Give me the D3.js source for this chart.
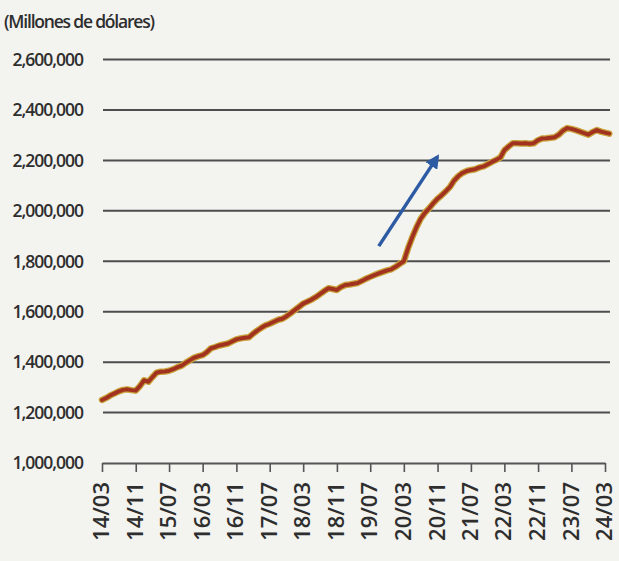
<!DOCTYPE html>
<html>
<head>
<meta charset="utf-8">
<style>
  body { margin: 0; background: #f3f3f0; }
  svg { display: block; }
  text { font-family: "Open Sans", sans-serif; fill: #2e2e2e; }
</style>
<script src="https://cdn.jsdelivr.net/npm/d3@7"></script>
</head>
<body>
<div id="chart"></div>
<script>
  // monthly values, millions of dollars, from 2014/03 to 2024/04
  var startMonth = '2014-03';
  var values = [
    1250000, 1258000, 1268000, 1276000, 1284000, 1290000, 1292000, 1289000, 1287000, 1305000,
    1328000, 1322000, 1340000, 1358000, 1362000, 1363000, 1366000, 1372000, 1380000, 1386000,
    1398000, 1408000, 1418000, 1424000, 1428000, 1440000, 1455000, 1460000, 1466000, 1470000,
    1474000, 1482000, 1490000, 1494000, 1497000, 1499000, 1512000, 1525000, 1536000, 1546000,
    1552000, 1560000, 1568000, 1572000, 1582000, 1594000, 1607000, 1620000, 1632000, 1640000,
    1648000, 1658000, 1670000, 1682000, 1693000, 1690000, 1686000, 1698000, 1706000, 1708000,
    1711000, 1714000, 1722000, 1731000, 1738000, 1745000, 1752000, 1758000, 1764000, 1768000,
    1778000, 1790000, 1800000, 1852000, 1895000, 1935000, 1968000, 1992000, 2010000, 2030000,
    2048000, 2062000, 2078000, 2096000, 2120000, 2138000, 2150000, 2158000, 2162000, 2165000,
    2172000, 2176000, 2185000, 2194000, 2202000, 2212000, 2240000, 2255000, 2268000, 2268000,
    2267000, 2268000, 2266000, 2268000, 2280000, 2287000, 2288000, 2290000, 2292000, 2302000,
    2318000, 2328000, 2325000, 2320000, 2314000, 2308000, 2302000, 2312000, 2320000, 2314000,
    2310000, 2306000
  ];
  var tickLabels = ['14/03', '14/11', '15/07', '16/03', '16/11', '17/07', '18/03', '18/11',
                    '19/07', '20/03', '20/11', '21/07', '22/03', '22/11', '23/07', '24/03'];
  var yTicks = [1000000, 1200000, 1400000, 1600000, 1800000, 2000000, 2200000, 2400000, 2600000];
  var arrowFrom = { date: '2019-09', value: 1860000 };
  var arrowTo = { date: '2020-11', value: 2215000 };

  var parseMonth = d3.timeParse('%Y-%m');
  var parseTick = d3.timeParse('%y/%m');

  var start = parseMonth(startMonth);
  var data = values.map(function(v, i) {
    return { date: d3.timeMonth.offset(start, i), value: v };
  });

  var svg = d3.select('#chart')
      .append('svg')
      .attr('width', 619)
      .attr('height', 561);

  var x = d3.scaleTime()
      .domain([parseTick('14/03'), parseTick('24/03')])
      .range([102, 605]);

  var y = d3.scaleLinear()
      .domain([1000000, 2600000])
      .range([463, 59.5]);

  svg.append('text')
      .attr('x', 4)
      .attr('y', 28)
      .style('font-size', '17.5px')
      .style('font-weight', 600)
      .style('letter-spacing', '-1.2px')
      .text('(Millones de dólares)');

  // horizontal gridlines (not at the baseline)
  svg.selectAll('line.grid')
      .data(yTicks.slice(1))
    .enter().append('line')
      .attr('class', 'grid')
      .attr('x1', 103)
      .attr('x2', 610)
      .attr('y1', function(d) { return y(d); })
      .attr('y2', function(d) { return y(d); })
      .style('stroke', '#4d4d4d')
      .style('stroke-width', 2);

  // y labels
  svg.selectAll('text.ylab')
      .data(yTicks)
    .enter().append('text')
      .attr('class', 'ylab')
      .attr('x', 83)
      .attr('y', function(d) { return y(d); })
      .attr('dy', '0.36em')
      .attr('text-anchor', 'end')
      .style('font-size', '17.5px')
      .style('font-weight', 600)
      .style('letter-spacing', '-1px')
      .text(d3.format(','));

  // x axis
  var xAxis = d3.axisBottom(x)
      .tickValues(tickLabels.map(function(t) { return parseTick(t); }))
      .tickSize(9)
      .tickSizeOuter(0)
      .tickFormat(d3.timeFormat('%y/%m'));

  var gx = svg.append('g')
      .attr('transform', 'translate(0,' + y(1000000) + ')')
      .call(xAxis);

  gx.select('.domain')
      .style('stroke', '#555')
      .style('stroke-width', 2);
  gx.selectAll('.tick line')
      .style('stroke', '#555')
      .style('stroke-width', 1.6);
  gx.selectAll('.tick text')
      .attr('transform', 'rotate(-90)')
      .attr('text-anchor', 'end')
      .attr('x', -19)
      .attr('y', 0)
      .attr('dy', '0.3em')
      .style('font-family', '"Open Sans", sans-serif')
      .style('font-size', '22px')
      .style('font-weight', 600)
      .style('fill', '#2e2e2e');

  // series line
  var line = d3.line()
      .x(function(d) { return x(d.date); })
      .y(function(d) { return y(d.value); });

  svg.append('path')
      .datum(data)
      .attr('d', line)
      .style('fill', 'none')
      .style('stroke', '#c9a43c')
      .style('stroke-width', 6.5)
      .style('stroke-linejoin', 'round')
      .style('stroke-linecap', 'round');

  svg.append('path')
      .datum(data)
      .attr('d', line)
      .style('fill', 'none')
      .style('stroke', '#a1321f')
      .style('stroke-width', 4)
      .style('stroke-linejoin', 'round')
      .style('stroke-linecap', 'round');

  // blue arrow
  svg.append('defs').append('marker')
      .attr('id', 'head')
      .attr('viewBox', '0 0 10 10')
      .attr('refX', 8)
      .attr('refY', 5)
      .attr('markerWidth', 4)
      .attr('markerHeight', 4)
      .attr('markerUnits', 'strokeWidth')
      .attr('orient', 'auto')
    .append('path')
      .attr('d', 'M0,0 L10,5 L0,10 z')
      .style('fill', '#2c5aa3');

  var ax1 = x(parseMonth(arrowFrom.date)), ay1 = y(arrowFrom.value);
  var ax2 = x(parseMonth(arrowTo.date)), ay2 = y(arrowTo.value);
  svg.append('line')
      .attr('x1', ax1)
      .attr('y1', ay1)
      .attr('x2', ax2)
      .attr('y2', ay2)
      .style('stroke', '#2c5aa3')
      .style('stroke-width', 3.5)
      .attr('marker-end', 'url(#head)');
</script>
</body>
</html>
